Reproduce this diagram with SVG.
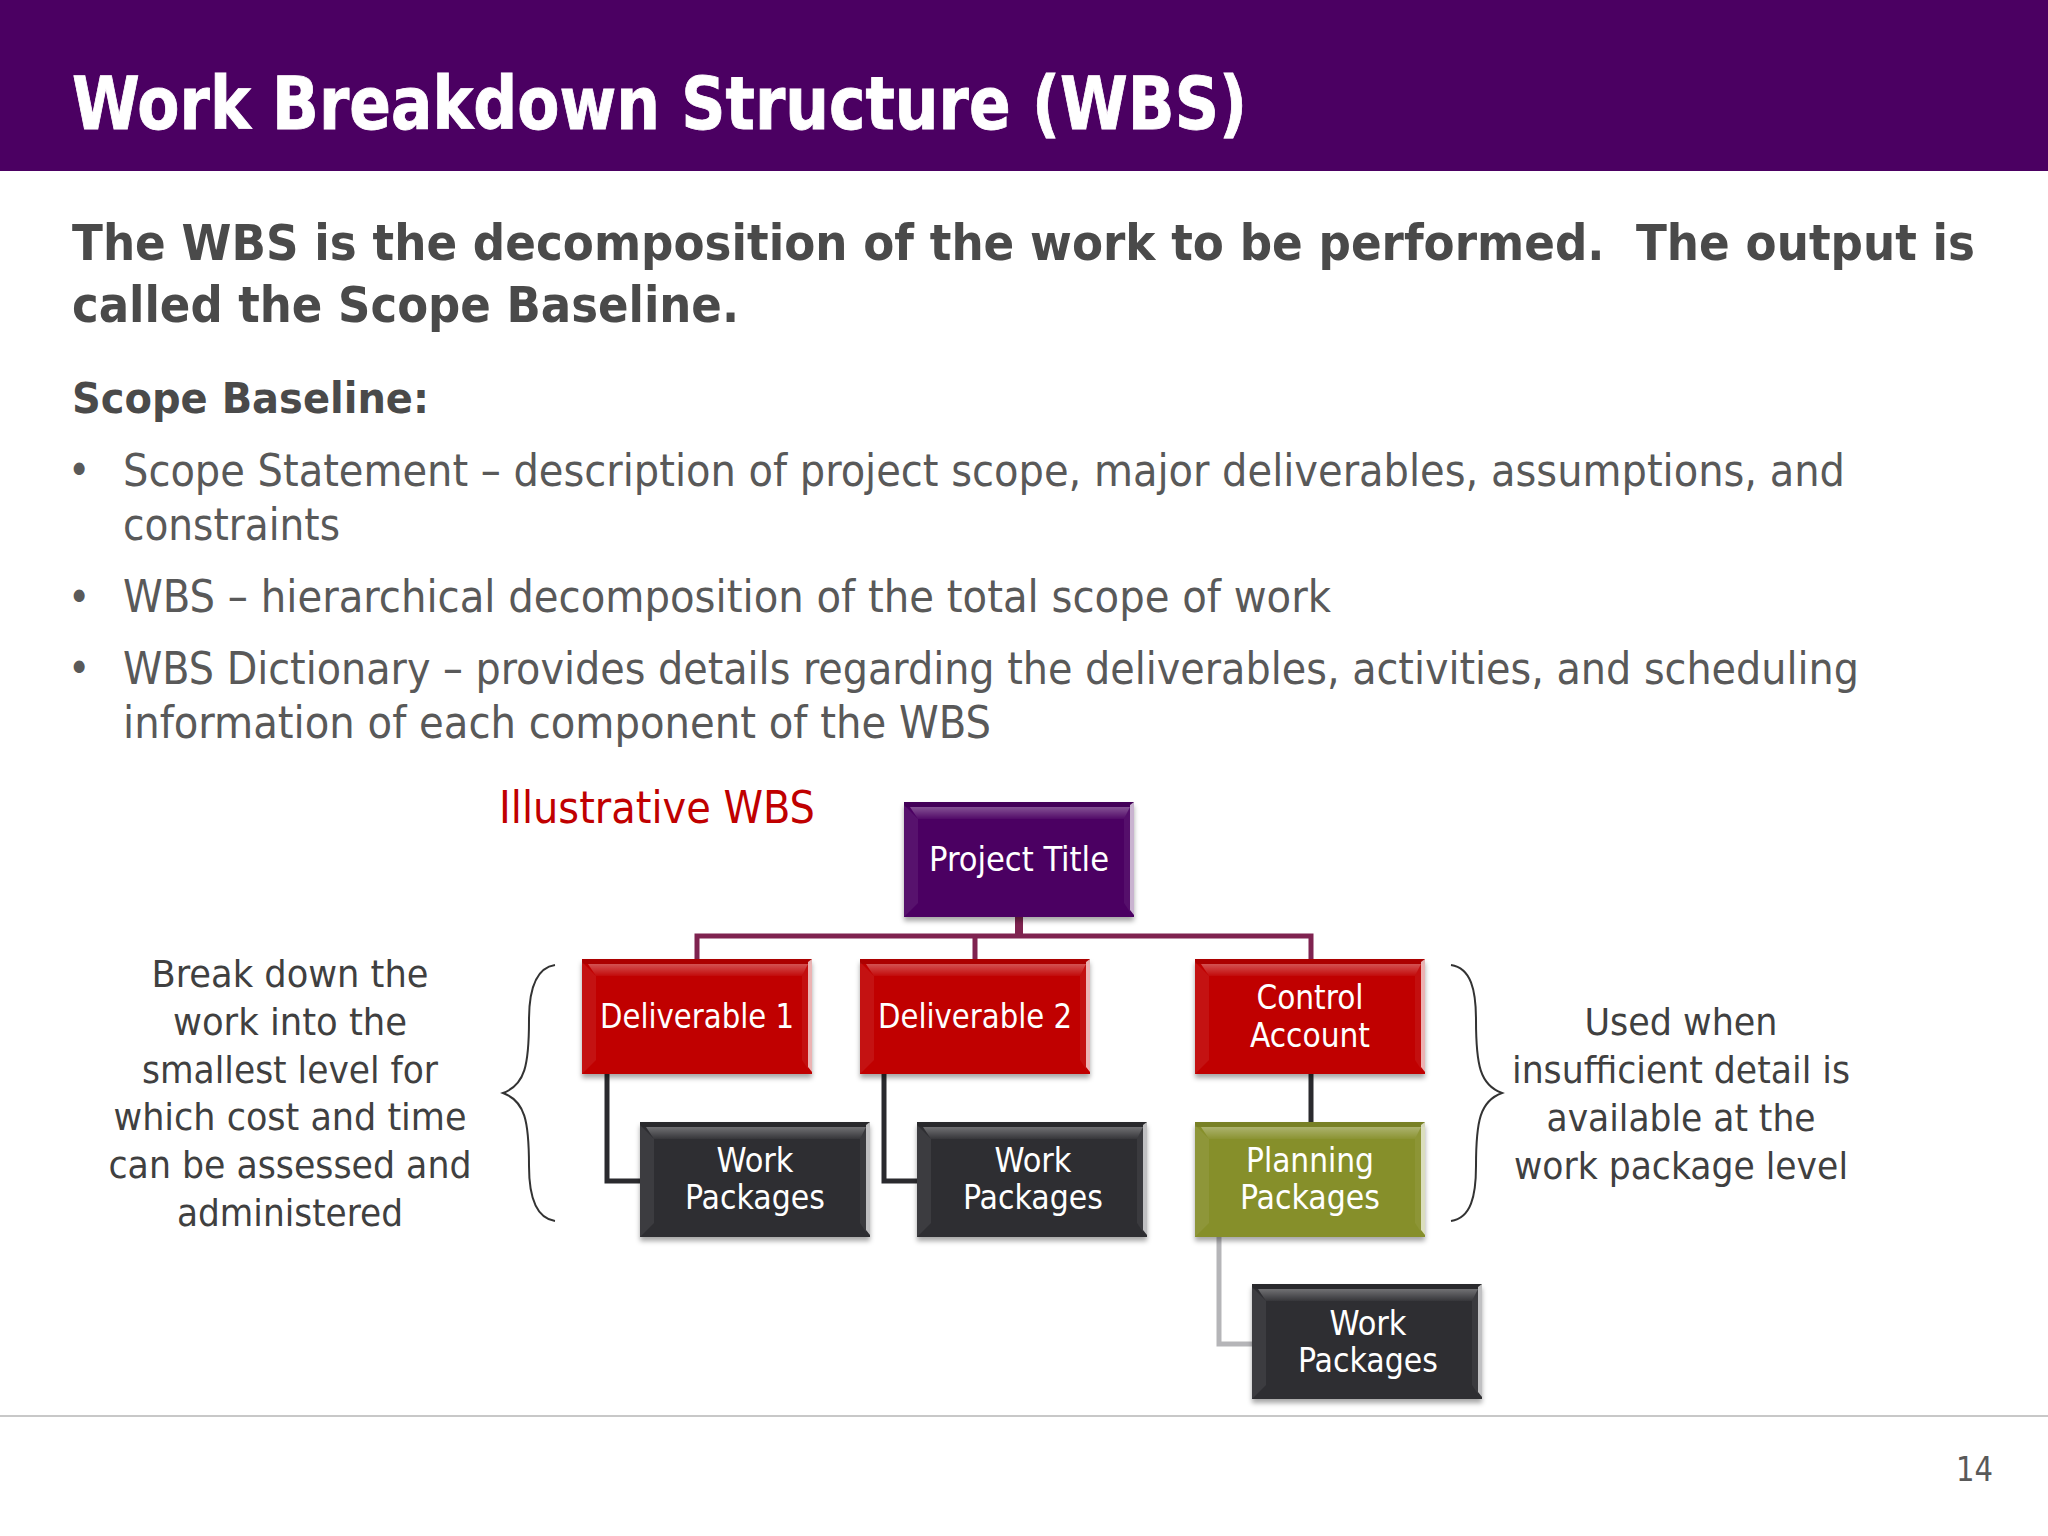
<svg xmlns="http://www.w3.org/2000/svg" width="2048" height="1536" viewBox="0 0 2048 1536">
<style>
text{font-family:"DejaVu Sans","Liberation Sans",sans-serif;white-space:pre;font-stretch:condensed}
.b{font-weight:700}
.body{font-size:44px;fill:#595959}
.bul{font-size:42px;fill:#595959}
.sub{font-size:49px;fill:#4a4a4a;font-weight:700}
.note{font-size:38px;fill:#404040;text-anchor:middle}
.n{font-size:33px;fill:#fff;text-anchor:middle}
.lvl1{fill:none;stroke:#7f2350;stroke-width:5}
.lvl2{fill:none;stroke:#2a2a2e;stroke-width:5}
.lvl3{fill:none;stroke:#b5b5b8;stroke-width:5}
.brace{fill:none;stroke:#333;stroke-width:2}
.purple{fill:#4b0062}.red{fill:#c00000}.dark{fill:#2e2e30}.olive{fill:#868f2c}
</style>
<defs>
<filter id="sh" x="-5%" y="-5%" width="110%" height="115%"><feDropShadow dx="0" dy="4" stdDeviation="2.5" flood-color="#000" flood-opacity="0.35"/></filter>
<linearGradient id="topband" x1="0" y1="0" x2="0" y2="1"><stop offset="0" stop-color="#fff" stop-opacity="0.32"/><stop offset="1" stop-color="#fff" stop-opacity="0.04"/></linearGradient>
<g id="bevel">
<polygon points="0,0 230,0 230,5 0,5" fill="#000" opacity="0.1"/>
<polygon points="6,5 226,5 220,17 14,17" fill="url(#topband)"/>
<polygon points="0,3 14,17 14,101 0,115" fill="#fff" opacity="0.07"/>
<polygon points="220,17 226,5 226,110 220,101" fill="#fff" opacity="0.06"/>
<polygon points="226,3 230,0 230,113 226,108" fill="#fff" opacity="0.7"/>
</g>
</defs>
<rect width="2048" height="1536" fill="#fff"/>
<rect width="2048" height="171" fill="#4b0062"/>
<text class="b" x="72" y="129" font-size="73" fill="#fff" stroke="#fff" stroke-width="0.8" textLength="1175" lengthAdjust="spacingAndGlyphs">Work Breakdown Structure (WBS)</text>
<text class="sub" x="72" y="260" textLength="1903" lengthAdjust="spacingAndGlyphs">The WBS is the decomposition of the work to be performed.  The output is</text>
<text class="sub" x="72" y="322" textLength="667" lengthAdjust="spacingAndGlyphs">called the Scope Baseline.</text>
<text x="72" y="413" font-size="43" fill="#4a4a4a" font-weight="700" textLength="357" lengthAdjust="spacingAndGlyphs">Scope Baseline:</text>
<text class="bul" x="68" y="485">•</text>
<text class="body" x="123" y="486" textLength="1722" lengthAdjust="spacingAndGlyphs">Scope Statement – description of project scope, major deliverables, assumptions, and</text>
<text class="body" x="123" y="540" textLength="217" lengthAdjust="spacingAndGlyphs">constraints</text>
<text class="bul" x="68" y="612">•</text>
<text class="body" x="123" y="612" textLength="1208" lengthAdjust="spacingAndGlyphs">WBS – hierarchical decomposition of the total scope of work</text>
<text class="bul" x="68" y="683">•</text>
<text class="body" x="123" y="684" textLength="1736" lengthAdjust="spacingAndGlyphs">WBS Dictionary – provides details regarding the deliverables, activities, and scheduling</text>
<text class="body" x="123" y="738" textLength="868" lengthAdjust="spacingAndGlyphs">information of each component of the WBS</text>
<text x="499" y="823" font-size="44" fill="#c00000" textLength="316" lengthAdjust="spacingAndGlyphs">Illustrative WBS</text>
<g id="left-note">
<text class="note" x="290" y="987" textLength="277" lengthAdjust="spacingAndGlyphs">Break down the</text>
<text class="note" x="290" y="1035" textLength="234" lengthAdjust="spacingAndGlyphs">work into the</text>
<text class="note" x="290" y="1083" textLength="296" lengthAdjust="spacingAndGlyphs">smallest level for</text>
<text class="note" x="290" y="1130" textLength="353" lengthAdjust="spacingAndGlyphs">which cost and time</text>
<text class="note" x="290" y="1178" textLength="363" lengthAdjust="spacingAndGlyphs">can be assessed and</text>
<text class="note" x="290" y="1226" textLength="226" lengthAdjust="spacingAndGlyphs">administered</text>
<path class="brace" d="M555 965C535 968 529 990 529 1020C529 1065 525 1085 503 1093C525 1101 529 1121 529 1166C529 1196 535 1218 555 1221"/>
</g>
<g id="right-note">
<path class="brace" d="M1451 965C1471 968 1476 990 1476 1020C1476 1065 1480 1085 1502 1093C1480 1101 1476 1121 1476 1166C1476 1196 1471 1218 1451 1221"/>
<text class="note" x="1681" y="1035" textLength="193" lengthAdjust="spacingAndGlyphs">Used when</text>
<text class="note" x="1681" y="1083" textLength="338" lengthAdjust="spacingAndGlyphs">insufficient detail is</text>
<text class="note" x="1681" y="1131" textLength="269" lengthAdjust="spacingAndGlyphs">available at the</text>
<text class="note" x="1681" y="1179" textLength="334" lengthAdjust="spacingAndGlyphs">work package level</text>
</g>
<g id="connectors">
<path class="lvl1" d="M697 959V936H1311V959M975 936V959"/>
<path class="lvl1" d="M1019 917V936" style="stroke-width:8"/>
<path class="lvl2" d="M607 1074V1181H640M884 1074V1181H917M1311 1074V1122"/>
<path class="lvl3" d="M1219 1236V1344H1252"/>
</g>
<g id="project-title"><rect class="purple" x="904" y="802" width="230" height="115" filter="url(#sh)"/><use href="#bevel" x="904" y="802"/><text class="n" x="1019" y="871" textLength="180" lengthAdjust="spacingAndGlyphs">Project Title</text></g>
<g id="deliverable-1"><rect class="red" x="582" y="959" width="230" height="115" filter="url(#sh)"/><use href="#bevel" x="582" y="959"/><text class="n" x="697" y="1028" textLength="194" lengthAdjust="spacingAndGlyphs">Deliverable 1</text></g>
<g id="deliverable-2"><rect class="red" x="860" y="959" width="230" height="115" filter="url(#sh)"/><use href="#bevel" x="860" y="959"/><text class="n" x="975" y="1028" textLength="194" lengthAdjust="spacingAndGlyphs">Deliverable 2</text></g>
<g id="control-account"><rect class="red" x="1195" y="959" width="230" height="115" filter="url(#sh)"/><use href="#bevel" x="1195" y="959"/><text class="n" x="1310" y="1009" textLength="107" lengthAdjust="spacingAndGlyphs">Control</text><text class="n" x="1310" y="1047" textLength="120" lengthAdjust="spacingAndGlyphs">Account</text></g>
<g id="work-packages-1"><rect class="dark" x="640" y="1122" width="230" height="115" filter="url(#sh)"/><use href="#bevel" x="640" y="1122"/><text class="n" x="755" y="1172" textLength="77" lengthAdjust="spacingAndGlyphs">Work</text><text class="n" x="755" y="1209" textLength="140" lengthAdjust="spacingAndGlyphs">Packages</text></g>
<g id="work-packages-2"><rect class="dark" x="917" y="1122" width="230" height="115" filter="url(#sh)"/><use href="#bevel" x="917" y="1122"/><text class="n" x="1033" y="1172" textLength="77" lengthAdjust="spacingAndGlyphs">Work</text><text class="n" x="1033" y="1209" textLength="140" lengthAdjust="spacingAndGlyphs">Packages</text></g>
<g id="planning-packages"><rect class="olive" x="1195" y="1122" width="230" height="115" filter="url(#sh)"/><use href="#bevel" x="1195" y="1122"/><text class="n" x="1310" y="1172" textLength="128" lengthAdjust="spacingAndGlyphs">Planning</text><text class="n" x="1310" y="1209" textLength="140" lengthAdjust="spacingAndGlyphs">Packages</text></g>
<g id="work-packages-3"><rect class="dark" x="1252" y="1284" width="230" height="115" filter="url(#sh)"/><use href="#bevel" x="1252" y="1284"/><text class="n" x="1368" y="1335" textLength="77" lengthAdjust="spacingAndGlyphs">Work</text><text class="n" x="1368" y="1372" textLength="140" lengthAdjust="spacingAndGlyphs">Packages</text></g>
<rect x="0" y="1415" width="2048" height="2" fill="#c8c8c8"/>
<text x="1956" y="1481" font-size="33" fill="#595959" textLength="37" lengthAdjust="spacingAndGlyphs">14</text>
</svg>
